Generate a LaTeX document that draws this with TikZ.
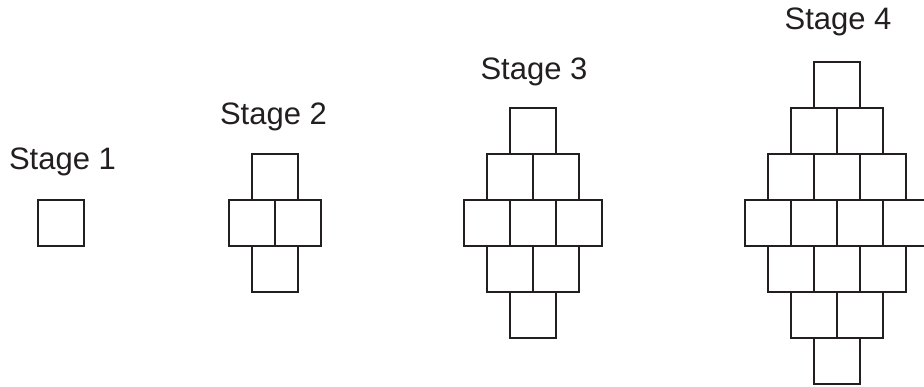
\documentclass[tikz,border=0pt]{standalone}
\usepackage{fontspec}
\setmainfont{Liberation Sans}
\definecolor{ink}{RGB}{35,31,32}
\begin{document}
\begin{tikzpicture}[x=1pt,y=-1pt,
  cell/.style={draw=ink, line width=2.2pt, minimum size=46pt, inner sep=0pt, outer sep=0pt},
  lbl/.style={font=\fontsize{31}{36}\selectfont, anchor=base, inner sep=0pt, text=ink}]
\useasboundingbox (0,0) rectangle (924,386);
\clip (0,0) rectangle (924,386);
\foreach \k/\cx in {1/61,2/275,3/533.3,4/837}{
  \pgfmathtruncatemacro{\m}{\k-1}
  \foreach \r in {-\m,...,\m}{
    \pgfmathtruncatemacro{\n}{\k-abs(\r)}
    \pgfmathtruncatemacro{\rr}{\r+\m}
    \foreach \j in {1,...,\n}{
      \node[cell] (s\k r\rr c\j) at ({\cx+(\j-(\n+1)/2)*46}, {222.8+\r*46}) {};
    }
  }
}
\node[lbl] (l1) at (62.5,169) {Stage 1};
\node[lbl] (l2) at (273.5,124.3) {Stage 2};
\node[lbl] (l3) at (534,79.3) {Stage 3};
\node[lbl] (l4) at (838,29.3) {Stage 4};
\end{tikzpicture}
\end{document}
